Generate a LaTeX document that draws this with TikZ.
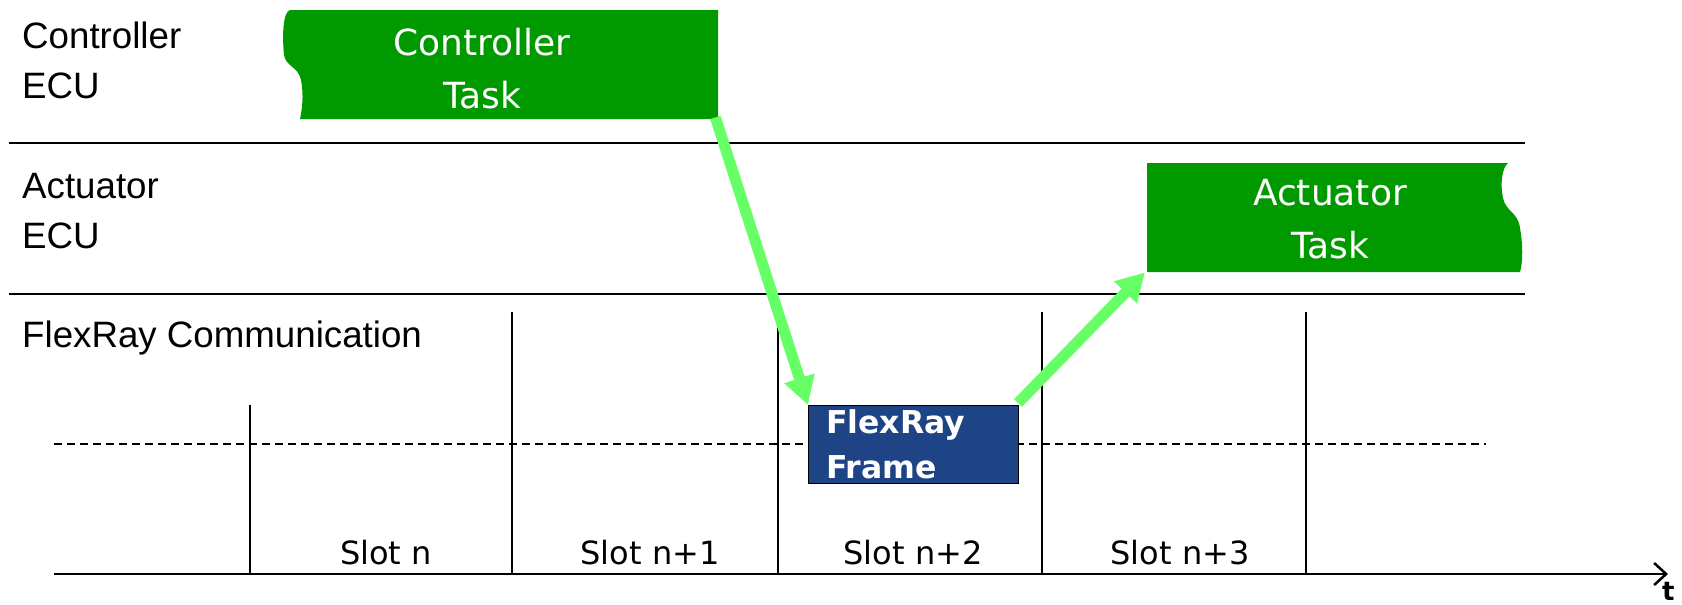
\documentclass[tikz,border=0pt]{standalone}
\usepackage{fontspec}
\setmainfont{DejaVu Sans}
\newfontfamily\lanefont{Liberation Sans}
\usetikzlibrary{arrows.meta}
\definecolor{taskgreen}{RGB}{0,153,0}
\definecolor{msggreen}{RGB}{102,255,102}
\definecolor{frameblue}{RGB}{31,68,133}

\begin{document}
\begin{tikzpicture}[x=1pt,y=-1pt,
  lane/.style={anchor=base west, inner sep=0, font=\lanefont\fontsize{36.7}{43}\selectfont},
  tasktext/.style={anchor=base, inner sep=0, text=white, font=\fontsize{36}{43}\selectfont},
  slotlabel/.style={anchor=base, inner sep=0, font=\fontsize{32}{38}\selectfont},
  frametext/.style={anchor=base west, inner sep=0, text=white, font=\bfseries\fontsize{31.5}{37}\selectfont},
  boxanchor/.style={inner sep=0, anchor=north west},
  lanerule/.style={line width=1.5pt},
  slotrule/.style={line width=1.5pt},
  msg/.style={msggreen, line width=11pt, -{Triangle[width=30pt,length=28pt]}},
]
\useasboundingbox (0,0) rectangle (1682,605);

% lane separators
\draw[lanerule] (9,143) -- (1525,143);
\draw[lanerule] (9,294) -- (1525,294);

% lane titles
\node[lane] (l1a) at (22,48) {Controller};
\node[lane] (l1b) at (22,98) {ECU};
\node[lane] (l2a) at (22,198) {Actuator};
\node[lane] (l2b) at (22,248) {ECU};
\node[lane] (l3)  at (22,347) {FlexRay Communication};

% static segment: slot boundaries and dashed midline
\draw[line width=1.5pt, dash pattern=on 8pt off 5pt] (54,444) -- (1486,444);
\draw[slotrule] (250,405) -- (250,574);
\foreach \sx in {512,778,1042,1306}
  \draw[slotrule] (\sx,312) -- (\sx,574);

% time axis
\draw[line width=2.5pt, -{Straight Barb[length=12pt,width=22pt,line width=2.5pt]}] (54,574) -- (1668,574);
\node[anchor=base west, inner sep=0, font=\bfseries\fontsize{26}{30}\selectfont] (t) at (1662,600) {t};

% slot labels
\node[slotlabel] (s0) at (386,564) {Slot n};
\node[slotlabel] (s1) at (650,564) {Slot n+1};
\node[slotlabel] (s2) at (913,564) {Slot n+2};
\node[slotlabel] (s3) at (1180,564) {Slot n+3};

% controller task (torn left edge)
\node[boxanchor, minimum width=435pt, minimum height=109pt] (ctask) at (283,10) {};
\fill[taskgreen] (718,10) -- (290,10)
  .. controls (283,12) and (282,35) .. (284,55)
  .. controls (286,67) and (298,66) .. (301,80)
  .. controls (304,95) and (302,110) .. (300,119) -- (718,119) -- cycle;
\node[tasktext] (ct1) at (482,55) {Controller};
\node[tasktext] (ct2) at (482,108) {Task};

% actuator task (torn right edge)
\node[boxanchor, minimum width=375pt, minimum height=109pt] (atask) at (1147,163) {};
\fill[taskgreen] (1147,163) -- (1508,163)
  .. controls (1502,168) and (1500,184) .. (1503,198)
  .. controls (1506,212) and (1518,212) .. (1520,228)
  .. controls (1523,245) and (1523,262) .. (1520,272) -- (1147,272) -- cycle;
\node[tasktext] (at1) at (1330,205) {Actuator};
\node[tasktext] (at2) at (1330,258) {Task};

% FlexRay frame
\node[boxanchor, draw=black, line width=1pt, fill=frameblue, minimum width=210pt, minimum height=78pt] (frame) at (808,405) {};
\node[frametext] (fr1) at (826,433) {FlexRay};
\node[frametext] (fr2) at (826,478) {Frame};

% message flow
\draw[msg] ([shift={(-3,-2)}]ctask.south east) -- (frame.north west);
\draw[msg] ([shift={(-1,-2)}]frame.north east) -- ([shift={(-2,0)}]atask.south west);
\end{tikzpicture}
\end{document}
